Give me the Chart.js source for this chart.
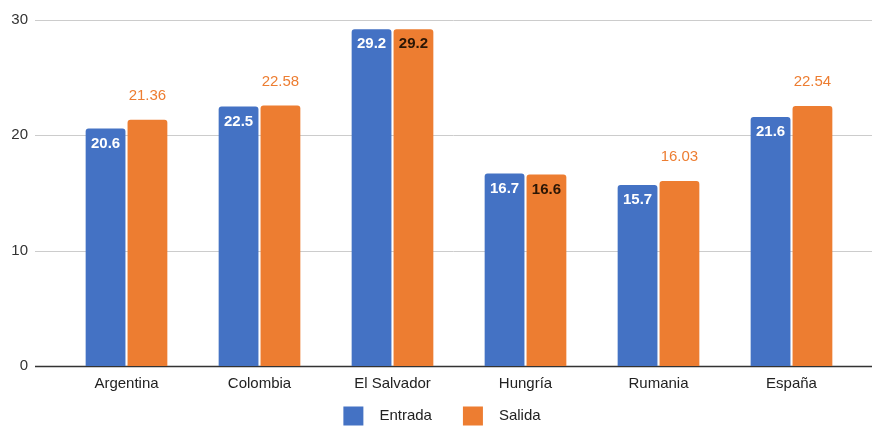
<!DOCTYPE html>
<html>
<head>
<meta charset="utf-8">
<script src="https://cdn.jsdelivr.net/npm/chart.js@4"></script>
<style>
  html, body { margin: 0; padding: 0; background: #fff; }
  #wrap { width: 872px; height: 427px; }
</style>
</head>
<body>
<div id="wrap"><canvas id="chart"></canvas></div>
<script>
const paises = ["Argentina", "Colombia", "El Salvador", "Hungría", "Rumania", "España"];
const entrada = [20.6, 22.5, 29.2, 16.7, 15.7, 21.6];
const salida = [21.36, 22.58, 29.2, 16.6, 16.03, 22.54];
const yTicks = [0, 10, 20, 30];

const AZUL = "#4472C4";
const NARANJA = "#ED7D31";
const FUENTE = "'Liberation Sans', Arial, sans-serif";

// Horizontal grid lines run past the plot area on both sides
const gridPlugin = {
    id: "gridLines",
    beforeDatasetsDraw(chart) {
        const ctx = chart.ctx;
        const y = chart.scales.y;
        ctx.save();
        yTicks.forEach(v => {
            const py = Math.round(y.getPixelForValue(v)) + 0.5;
            ctx.beginPath();
            ctx.strokeStyle = v === 0 ? "#333" : "#ccc";
            ctx.lineWidth = v === 0 ? 1.5 : 1;
            ctx.moveTo(35, py);
            ctx.lineTo(chart.width, py);
            ctx.stroke();
        });
        ctx.restore();
    }
};

// Value labels: inside the bar top, or above it when the orange bar is taller
const labelPlugin = {
    id: "valueLabels",
    afterDatasetsDraw(chart) {
        const ctx = chart.ctx;
        ctx.save();
        ctx.textAlign = "center";
        ctx.textBaseline = "middle";
        chart.data.datasets.forEach((ds, di) => {
            const meta = chart.getDatasetMeta(di);
            meta.data.forEach((bar, i) => {
                const v = ds.data[i];
                const txt = String(v);
                if (di === 0) {
                    ctx.font = "bold 15px " + FUENTE;
                    ctx.fillStyle = "#fff";
                    ctx.fillText(txt, bar.x, bar.y + 15);
                } else if (v <= entrada[i]) {
                    ctx.font = "bold 15px " + FUENTE;
                    ctx.fillStyle = "#2b1605";
                    ctx.fillText(txt, bar.x, bar.y + 15);
                } else {
                    ctx.font = "15px " + FUENTE;
                    ctx.fillStyle = NARANJA;
                    ctx.fillText(txt, bar.x, bar.y - 24);
                }
            });
        });
        ctx.restore();
    }
};

// Legend at the bottom: colour box, then the series name
const legendPlugin = {
    id: "bottomLegend",
    afterDraw(chart) {
        const ctx = chart.ctx;
        const box = 20, boxH = 19, gapText = 16, gapItem = 31;
        ctx.save();
        ctx.font = "15px " + FUENTE;
        ctx.textBaseline = "middle";
        const items = chart.data.datasets.map(ds => ({
            text: ds.label,
            color: ds.backgroundColor,
            w: ctx.measureText(ds.label).width
        }));
        const total = items.reduce((s, it) => s + box + gapText + it.w, 0) + gapItem * (items.length - 1);
        let x = chart.width / 2 + 6 - total / 2;
        const cy = 416;
        items.forEach(it => {
            ctx.fillStyle = it.color;
            ctx.fillRect(x, cy - boxH / 2, box, boxH);
            ctx.fillStyle = "#222";
            ctx.fillText(it.text, x + box + gapText, cy);
            x += box + gapText + it.w + gapItem;
        });
        ctx.restore();
    }
};

new Chart(document.getElementById("chart").getContext("2d"), {
    type: "bar",
    data: {
        labels: paises,
        datasets: [
            {
                label: "Entrada",
                data: entrada,
                backgroundColor: AZUL,
                borderRadius: 3,
                borderSkipped: "bottom",
                categoryPercentage: 0.63,
                barPercentage: 0.95
            },
            {
                label: "Salida",
                data: salida,
                backgroundColor: NARANJA,
                borderRadius: 3,
                borderSkipped: "bottom",
                categoryPercentage: 0.63,
                barPercentage: 0.95
            }
        ]
    },
    options: {
        responsive: true,
        maintainAspectRatio: false,
        animation: false,
        layout: { padding: { top: 20, right: 14, left: 0, bottom: 31 } },
        plugins: {
            tooltip: { enabled: false },
            legend: { display: false }
        },
        scales: {
            x: {
                afterFit(scale) { scale.height = 30; },
                grid: { display: false },
                border: { display: false },
                ticks: {
                    color: "#222",
                    padding: 1,
                    font: { family: FUENTE, size: 15 }
                }
            },
            y: {
                min: 0,
                max: 30,
                afterFit(scale) {
                    scale.width = 60;
                    scale.paddingTop = 0;
                    scale.paddingBottom = 0;
                },
                afterBuildTicks(scale) { scale.ticks = yTicks.map(v => ({ value: v })); },
                grid: { display: false, drawTicks: false },
                border: { display: false },
                ticks: {
                    color: "#333",
                    padding: 32,
                    font: { family: FUENTE, size: 15 }
                }
            }
        }
    },
    plugins: [gridPlugin, labelPlugin, legendPlugin]
});
</script>
</body>
</html>
